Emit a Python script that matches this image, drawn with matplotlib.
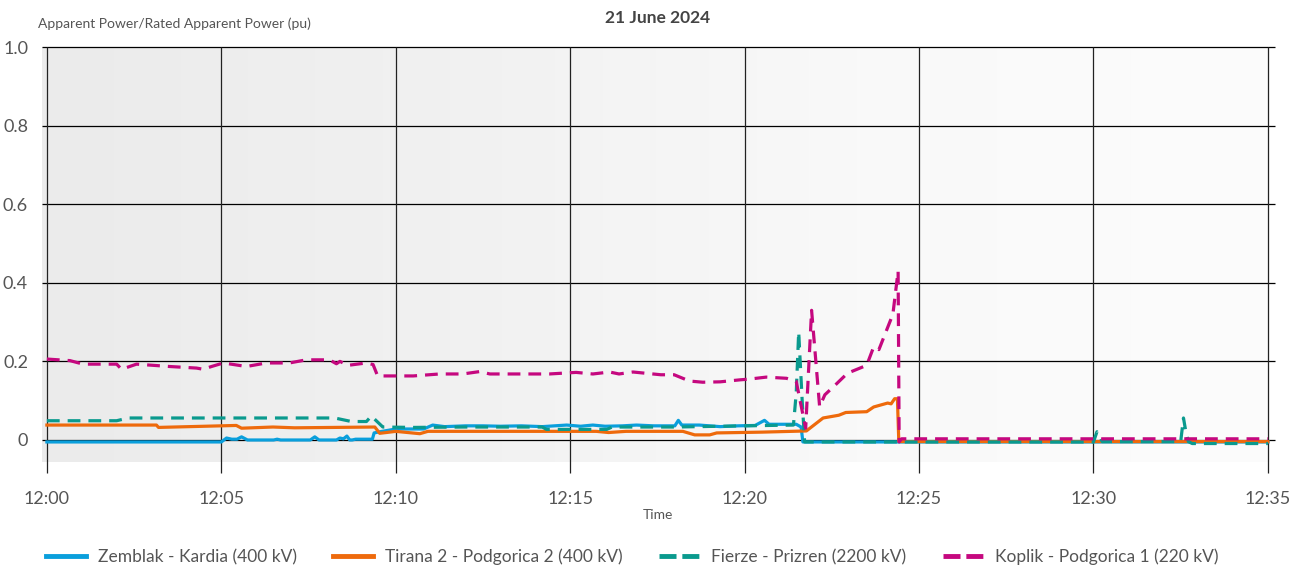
import numpy as np
import matplotlib
matplotlib.use("Agg")
import matplotlib.pyplot as plt
from matplotlib.colors import LinearSegmentedColormap

plt.rcParams['font.family'] = ['Lato', 'DejaVu Sans']

# minutes after 12:00
zk_t = [0, 5.0, 5.15, 5.3, 5.45, 5.58, 5.75, 6.5, 6.6, 6.7, 7.55, 7.68, 7.8, 8.3, 8.4, 8.5, 8.6, 8.68, 8.75, 8.85,
        9.33, 9.38, 9.55, 10.0, 10.8, 11.06, 11.4, 12.0, 12.5, 13.0, 13.6, 14.2, 14.9, 15.3, 15.65, 16.0, 16.5,
        16.9, 17.4, 18.0, 18.1, 18.2, 18.7, 19.3, 19.8, 20.3, 20.57, 20.7, 21.1, 21.48, 21.62, 21.67, 35.0]
zk_v = [-0.005, -0.005, 0.005, 0.002, 0.002, 0.008, 0.0, 0.0, 0.002, 0.0, 0.0, 0.008, 0.0, 0.0, 0.005, 0.003, 0.01,
        0.0, 0.0, 0.002, 0.002, 0.018, 0.021, 0.028, 0.028, 0.038, 0.034, 0.036, 0.036, 0.035, 0.036, 0.034, 0.038,
        0.035, 0.038, 0.035, 0.036, 0.038, 0.036, 0.036, 0.05, 0.038, 0.038, 0.034, 0.036, 0.037, 0.05, 0.04, 0.04,
        0.04, 0.033, -0.005, -0.005]

tp_t = [0, 3.14, 3.2, 5.43, 5.58, 6.48, 7.1, 9.4, 9.54, 9.82, 10.0, 10.69, 10.92, 15.75, 16.1, 16.6, 18.23, 18.57,
        19.0, 19.2, 20.5, 21.77, 22.25, 22.7, 22.9, 23.5, 23.7, 24.1, 24.2, 24.3, 24.38, 24.42, 35.0]
tp_v = [0.038, 0.038, 0.032, 0.037, 0.03, 0.033, 0.031, 0.033, 0.017, 0.02, 0.022, 0.016, 0.022, 0.022, 0.019,
        0.022, 0.022, 0.013, 0.013, 0.018, 0.02, 0.023, 0.056, 0.063, 0.07, 0.072, 0.084, 0.094, 0.092, 0.105, 0.105,
        -0.004, -0.004]

fp_t = [0, 2.0, 2.33, 8.25, 8.73, 9.16, 9.3, 9.63, 10.5, 12.0, 14.2, 14.32, 16.05, 16.2, 18.0, 20.0, 21.4, 21.48,
        21.55, 21.65, 21.72, 30.0, 30.1, 30.25, 32.5, 32.58, 32.65, 32.72, 32.83, 35.0]
fp_v = [0.049, 0.049, 0.056, 0.056, 0.047, 0.047, 0.061, 0.033, 0.032, 0.033, 0.033, 0.027, 0.027, 0.033, 0.033,
        0.036, 0.038, 0.12, 0.275, 0.1, -0.005, -0.005, 0.021, -0.004, -0.004, 0.056, 0.02, -0.004, -0.009, -0.009]

kp_t = [0, 0.66, 1.04, 2.0, 2.14, 2.57, 3.52, 4.29, 4.48, 4.72, 5.06, 5.72, 6.29, 6.95, 7.44, 8.1, 8.3, 8.4, 8.63,
        9.16, 9.35, 9.48, 10.5, 11.26, 11.92, 12.4, 12.7, 14.4, 15.17, 15.65, 16.13, 16.4, 16.8, 17.6, 17.98, 18.42,
        18.8, 19.3, 19.86, 20.14, 20.62, 21.2, 21.48, 21.75, 21.92, 22.15, 22.3, 22.6, 22.95, 23.5, 23.7, 23.85,
        24.25, 24.4, 24.43, 24.5, 35.0]
kp_v = [0.206, 0.202, 0.193, 0.193, 0.18, 0.193, 0.187, 0.183, 0.18, 0.187, 0.196, 0.187, 0.196, 0.196, 0.204,
        0.204, 0.194, 0.2, 0.19, 0.196, 0.192, 0.163, 0.163, 0.168, 0.168, 0.174, 0.168, 0.168, 0.172, 0.168, 0.173,
        0.168, 0.173, 0.166, 0.166, 0.15, 0.147, 0.148, 0.153, 0.155, 0.16, 0.157, 0.149, 0.03, 0.33, 0.085, 0.115,
        0.14, 0.17, 0.19, 0.237, 0.23, 0.32, 0.43, -0.005, 0.003, 0.003]

labels = ["Zemblak - Kardia (400 kV)", "Tirana 2 - Podgorica 2 (400 kV)",
          "Fierze - Prizren (2200 kV)", "Koplik - Podgorica 1 (220 kV)"]
colors = ["#0a9fdc", "#ee6a0c", "#0a9a8e", "#c5087f"]

x_ticks = [0, 5, 10, 15, 20, 25, 30, 35]
x_labels = ["12:00", "12:05", "12:10", "12:15", "12:20", "12:25", "12:30", "12:35"]
y_ticks = [0, 0.2, 0.4, 0.6, 0.8, 1.0]
y_labels = ["0", "0.2", "0.4", "0.6", "0.8", "1.0"]

fig = plt.figure(figsize=(13.06, 5.71), dpi=100)
ax = fig.add_axes([42 / 1306, 1 - 462 / 571, 1228 / 1306, 415 / 571])
xlim = (-0.14, 35.06)
ylim = (-0.056, 1.0)

# background gradient, darker on the left
cmap = LinearSegmentedColormap.from_list("bg", ["#ebebeb", "#f1f1f1", "#f9f9f9", "#fcfcfc"])
ax.imshow(np.linspace(0, 1, 256).reshape(1, -1), cmap=cmap, aspect="auto",
          extent=[xlim[0], xlim[1], ylim[0], ylim[1]], zorder=0)
for s in ax.spines.values():
    s.set_visible(False)

ax.hlines(y_ticks, -0.0, 1.004, transform=ax.get_yaxis_transform(), colors="#000000", lw=0.9,
          clip_on=False, zorder=1)
ax.vlines(x_ticks, -0.027, 1.0, transform=ax.get_xaxis_transform(), colors="#222222", lw=0.9,
          clip_on=False, zorder=1)

ax.plot(zk_t, zk_v, color=colors[0], lw=2.3, label=labels[0], zorder=3)
ax.plot(tp_t, tp_v, color=colors[1], lw=2.3, label=labels[1], zorder=3)
ax.plot(fp_t, fp_v, color=colors[2], lw=2.3, dashes=(4, 2.5), label=labels[2], zorder=4)
ax.plot(kp_t, kp_v, color=colors[3], lw=2.3, dashes=(4, 2.5), label=labels[3], zorder=5)

ax.set_xlim(*xlim)
ax.set_ylim(*ylim)
ax.set_xticks(x_ticks, x_labels)
ax.set_yticks(y_ticks, y_labels)
ax.tick_params(axis="both", length=0, labelsize=13, labelcolor="#555555")
ax.tick_params(axis="x", pad=21)
ax.tick_params(axis="y", pad=10)

fig.text(658 / 1306, 1 - 18 / 571, "21 June 2024", ha="center", va="center", fontsize=12.5,
         fontweight="bold", color="#444444")
fig.text(38 / 1306, 1 - 24 / 571, "Apparent Power/Rated Apparent Power (pu)", ha="left", va="center",
         fontsize=10, color="#555555")
fig.text(658 / 1306, 1 - 515 / 571, "Time", ha="center", va="center", fontsize=10, color="#555555")

leg = fig.legend(loc="center", bbox_to_anchor=(0.484, 1 - 557 / 571), ncol=4, frameon=False,
                 fontsize=12.5, handlelength=2.3, columnspacing=2.1, handletextpad=0.7)
for t in leg.get_texts():
    t.set_color("#555555")
for i, h in enumerate(leg.get_lines()):
    h.set_linewidth(3.5)
    if i >= 2:
        h.set_dashes((3.5, 1.2))

fig.savefig("out.png", dpi=100)
